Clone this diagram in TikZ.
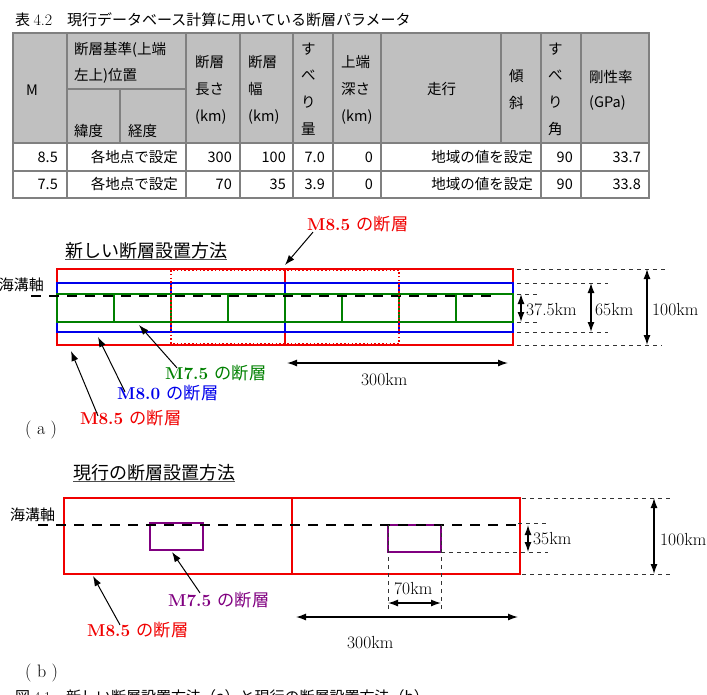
\documentclass[tikz,border=0pt]{standalone}
\usepackage{fontspec}
\newfontfamily\jp{Noto Sans CJK JP}
\usepackage{xcolor}
\usepackage{tikz}
\usetikzlibrary{arrows.meta,positioning}
\definecolor{hdgray}{RGB}{192,192,192}
\definecolor{rulegray}{RGB}{128,128,128}
\definecolor{fred}{RGB}{240,0,0}
\definecolor{fblue}{RGB}{0,0,235}
\definecolor{fgreen}{RGB}{0,128,0}
\definecolor{fpurple}{RGB}{128,0,128}

\begin{document}
\begin{tikzpicture}[x=1pt,y=-1pt, every node/.style={inner sep=0pt},
  th/.style={anchor=west,font=\jp\fontsize{14.5}{14.5}\selectfont},
  td/.style={anchor=east,font=\jp\fontsize{14.5}{14.5}\selectfont},
  rule/.style={draw=rulegray,line width=1.2pt},
  ttl/.style={anchor=west,font=\jp\fontsize{18}{18}\selectfont},
  axtxt/.style={font=\jp\fontsize{15}{15}\selectfont},
  lbl/.style={anchor=west,font=\fontsize{17.2}{17.2}\selectfont\bfseries},
  dimtxt/.style={anchor=west,font=\fontsize{17.5}{17.5}\selectfont},
  tag/.style={anchor=west,font=\fontsize{18}{18}\selectfont},
  redbox/.style={draw=fred,line width=2pt},
  bluebox/.style={draw=fblue,line width=1.8pt},
  greenbox/.style={draw=fgreen,line width=1.8pt},
  purplebox/.style={draw=fpurple,line width=2.2pt},
  trench/.style={line width=2.6pt,dash pattern=on 10pt off 8pt},
  ext/.style={line width=0.8pt,dash pattern=on 4pt off 4pt,black!80},
  arr/.style={-{Latex[length=10pt,width=7pt]},line width=1pt},
  dimarr/.style={{Latex[length=10pt,width=7pt]}-{Latex[length=10pt,width=7pt]},line width=1.3pt}]
\useasboundingbox (0,0) rectangle (707,694);

% ---- table
\node[anchor=west,font=\jp\fontsize{15}{15}\selectfont] (tcap) at (15,20) {表 {\rmfamily\fontsize{16}{16}\selectfont 4.2}　現行データベース計算に用いている断層パラメータ};
\fill[hdgray] (13,33) rectangle (649,143);
\draw[rule] (13,33) rectangle (649,198);
\draw[rule] (13,143) -- (649,143) (13,171) -- (649,171);
\foreach \cx in {67,186,240,293,333,381,541,581}
  \draw[rule] (\cx,33) -- (\cx,198);
\draw[rule] (67,89) -- (186,89) (120,89) -- (120,143) (501,33) -- (501,143);

\node[th] (hM) at (26,90) {M};
\node[th] (hpos1) at (74,50) {断層基準(上端};
\node[th] (hpos2) at (74,76) {左上)位置};
\node[th] (hlat) at (74,131) {緯度};
\node[th] (hlon) at (128,131) {経度};
\foreach \cx/\w in {195/長さ,248/幅,341/深さ} {
  \node[th] at (\cx,89) {\w};
  \node[th] at (\cx,117) {(km)};
}
\node[th] at (195,62) {断層};
\node[th] at (248,62) {断層};
\node[th] at (341,62) {上端};
\foreach \yy/\w in {49/す,75/べ,102/り,129/量} \node[th] at (301,\yy) {\w};
\foreach \yy/\w in {49/す,75/べ,102/り,129/角} \node[th] at (548,\yy) {\w};
\node[th] (hstrike) at (427,89) {走行};
\node[th] (hdip1) at (509,76) {傾};
\node[th] (hdip2) at (509,103) {斜};
\node[th] (hmu1) at (589,77) {剛性率};
\node[th] (hmu2) at (589,103) {(GPa)};

\foreach \yy/\m/\len/\wid/\sl/\mu in {157/8.5/300/100/7.0/33.7, 184/7.5/70/35/3.9/33.8} {
  \node[td] at (58,\yy) {\m};
  \node[td] at (178,\yy) {各地点で設定};
  \node[td] at (232,\yy) {\len};
  \node[td] at (286,\yy) {\wid};
  \node[td] at (325,\yy) {\sl};
  \node[td] at (373,\yy) {0};
  \node[td] at (533,\yy) {地域の値を設定};
  \node[td] at (573,\yy) {90};
  \node[td] at (641,\yy) {\mu};
}

% ---- (a) new method
\node[ttl] (ttlA) at (65,251) {新しい断層設置方法};
\draw[line width=1.4pt,black!70] (ttlA.south west) -- (ttlA.south east);
\node[axtxt,anchor=east] (axA) at (44,285) {海溝軸};

\foreach \i in {0,1} \draw[redbox] (57+228*\i,269) rectangle (285+228*\i,345);
\foreach \i in {0,...,3} \draw[bluebox] (57+114*\i,283) rectangle (171+114*\i,332);
\foreach \i in {0,...,7} \draw[greenbox] (57+57*\i,294) rectangle (114+57*\i,322);
\coordinate (axAs) at (31,296);
\coordinate (axAe) at (495,296);
\draw[trench] (axAs) -- (axAe);
\draw[draw=fred,line width=1.8pt,dash pattern=on 1.6pt off 2.2pt] (171,270) rectangle (399,344);

% dimensions (a)
\draw[ext] (517,269) -- (665,269) (517,345) -- (662,345);
\draw[ext] (517,283) -- (608,283) (517,332) -- (608,332);
\draw[ext] (517,294) -- (540,294) (517,322) -- (538,322);
\coordinate (d1t) at (521,294); \coordinate (d1b) at (521,322);
\coordinate (d2t) at (591,283); \coordinate (d2b) at (591,332);
\coordinate (d3t) at (647,269); \coordinate (d3b) at (647,345);
\draw[dimarr] (d1t) -- (d1b);
\draw[dimarr] (d2t) -- (d2b);
\draw[dimarr] (d3t) -- (d3b);
\node[dimtxt] (w375) at (526,310) {37.5km};
\node[dimtxt] (w65) at (595,310) {65km};
\node[dimtxt] (w100a) at (652,310) {100km};
\coordinate (lenAs) at (287,363); \coordinate (lenAe) at (508,363);
\draw[dimarr] (lenAs) -- (lenAe);
\node[dimtxt] (lenA) at (361,380) {300km};

% labels (a)
\node[lbl,text=fred] (lblTop) at (307,224) {M8.5 {\jp\mdseries の断層}};
\node[lbl,text=fgreen] (lbl75a) at (165,373) {M7.5 {\jp\mdseries の断層}};
\node[lbl,text=fblue] (lbl80a) at (117,393) {M8.0 {\jp\mdseries の断層}};
\node[lbl,text=fred] (lbl85a) at (80,418) {M8.5 {\jp\mdseries の断層}};
\coordinate (tipTop) at (285,265);
\coordinate (tip75a) at (139,325);
\coordinate (tip80a) at (98,337);
\coordinate (tip85a) at (71,351);
\draw[arr] ([xshift=6pt]lblTop.south west) -- (tipTop);
\draw[arr] ([xshift=12pt,yshift=-3pt]lbl75a.north west) -- (tip75a);
\draw[arr] ([xshift=8pt,yshift=-7pt]lbl80a.north west) -- (tip80a);
\draw[arr] ([xshift=18pt,yshift=-6pt]lbl85a.north west) -- (tip85a);
\node[tag] (tagA) at (25,430) {( a )};

% ---- (b) current method
\node[ttl] (ttlB) at (73,473) {現行の断層設置方法};
\draw[line width=1.4pt,black!70] (ttlB.south west) -- (ttlB.south east);
\node[axtxt,anchor=west] (axB) at (10,515) {海溝軸};

\foreach \i in {0,1} \draw[redbox] (64+228*\i,498) rectangle (292+228*\i,574);
\draw[purplebox] (150,523) rectangle (203,550);
\draw[purplebox] (388,525) rectangle (441,552);
\coordinate (axBs) at (38,525);
\coordinate (axBe) at (518,525);
\draw[trench] (axBs) -- (axBe);

% dimensions (b)
\draw[ext] (522,498) -- (673,498) (522,574) -- (670,574);
\draw[ext] (518,523) -- (548,523) (441,552) -- (548,552);
\draw[ext] (388,525) -- (388,612) (441,525) -- (441,612);
\coordinate (d4t) at (528,525); \coordinate (d4b) at (528,552);
\coordinate (d5t) at (654,498); \coordinate (d5b) at (654,574);
\coordinate (d6l) at (388,603); \coordinate (d6r) at (441,603);
\draw[dimarr] (d4t) -- (d4b);
\draw[dimarr] (d5t) -- (d5b);
\draw[dimarr] (d6l) -- (d6r);
\node[dimtxt] (w35) at (533,539) {35km};
\node[dimtxt] (w100b) at (660,540) {100km};
\node[dimtxt] (w70) at (394,589) {70km};
\coordinate (lenBs) at (296,617); \coordinate (lenBe) at (518,617);
\draw[dimarr] (lenBs) -- (lenBe);
\node[dimtxt] (lenB) at (347,643) {300km};

% labels (b)
\node[lbl,text=fpurple] (lbl75b) at (168,600) {M7.5 {\jp\mdseries の断層}};
\node[lbl,text=fred] (lbl85b) at (87,630) {M8.5 {\jp\mdseries の断層}};
\coordinate (tip75b) at (172,552);
\coordinate (tip85b) at (93,576);
\draw[arr] ([xshift=32pt,yshift=-1pt]lbl75b.north west) -- (tip75b);
\draw[arr] ([xshift=33pt,yshift=-3pt]lbl85b.north west) -- (tip85b);
\node[tag] (tagB) at (25,673) {( b )};

% caption, cut by the page edge as in the source
\node[anchor=north west,font=\jp\fontsize{15}{15}\selectfont] (fcap) at (15,689) {図 {\rmfamily 4.1}　新しい断層設置方法（a）と現行の断層設置方法（b）};
\end{tikzpicture}
\end{document}
